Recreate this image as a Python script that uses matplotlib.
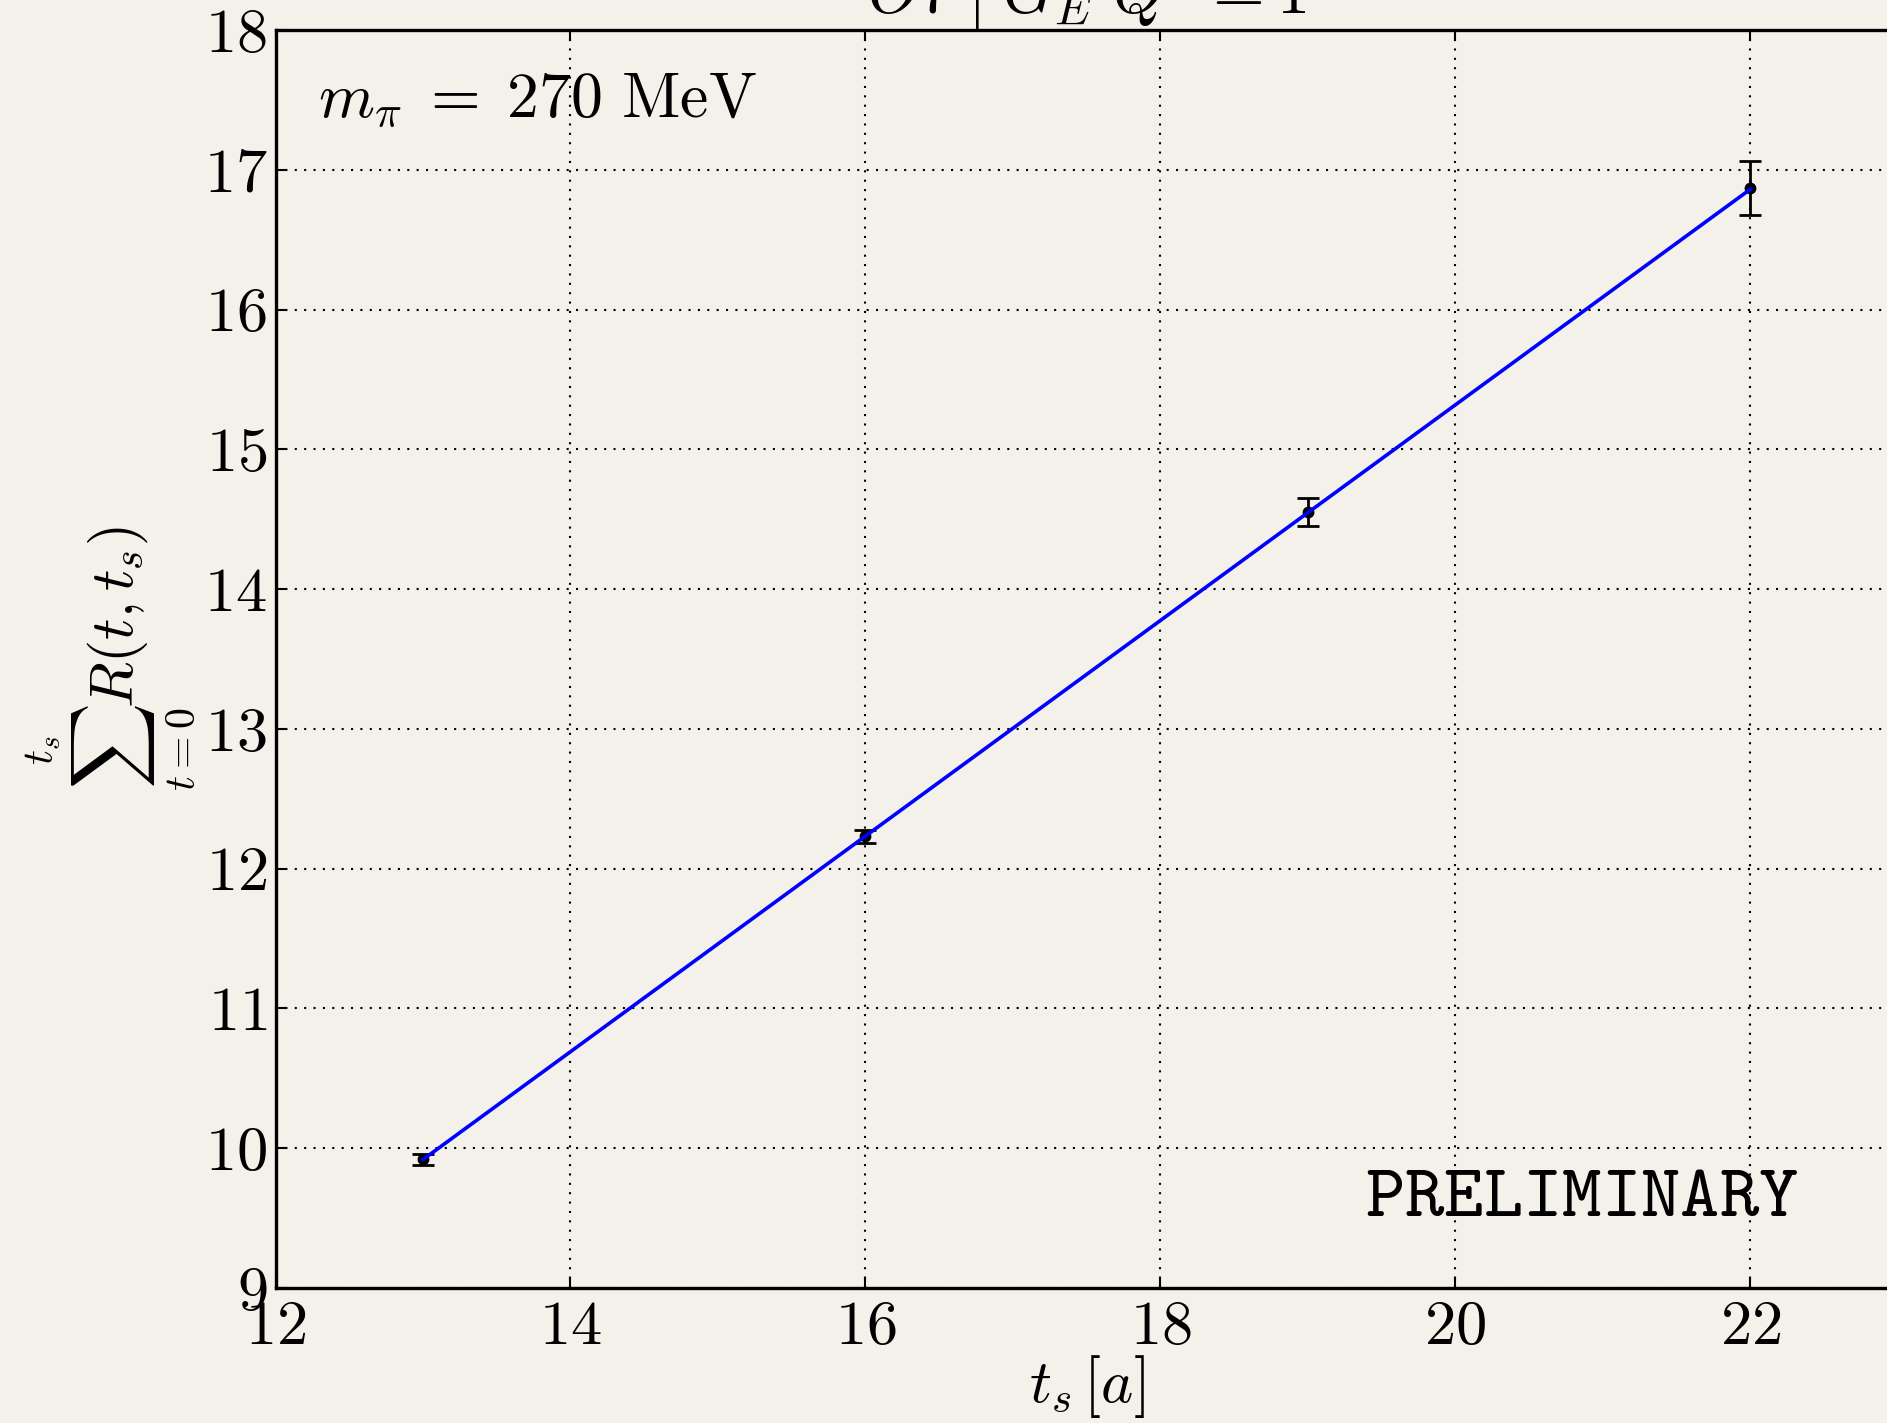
import matplotlib
matplotlib.use("Agg")
import matplotlib.pyplot as plt
import numpy as np

# summed ratio vs source-sink separation
ts = np.array([13, 16, 19, 22])
sum_r = np.array([9.92, 12.23, 14.55, 16.87])
sum_r_err = np.array([0.04, 0.05, 0.10, 0.19])

x_ticks = [12, 14, 16, 18, 20, 22]
y_ticks = [9, 10, 11, 12, 13, 14, 15, 16, 17, 18]

bg = '#f4f1eb'
plt.rcParams['mathtext.fontset'] = 'cm'
plt.rcParams['font.family'] = ['cmr10', 'DejaVu Serif']
plt.rcParams['axes.formatter.use_mathtext'] = True

fig = plt.figure(figsize=(18.87, 14.23), dpi=100, facecolor=bg)
ax = fig.add_axes([0.146, 0.0949, 0.8598, 0.884])
ax.set_facecolor(bg)

# linear fit through the points, weighted by errors
p = np.polyfit(ts, sum_r, 1, w=1.0 / sum_r_err)
xf = np.array([ts[0], ts[-1]])
ax.errorbar(ts, sum_r, yerr=sum_r_err, fmt='o', color='k', ms=7.5,
            elinewidth=2, capsize=8, capthick=2, zorder=3)
ax.plot(xf, np.polyval(p, xf), color='#0000ff', lw=2.6, zorder=4)

ax.set_xlim(12, 23)
ax.set_ylim(9, 18)
ax.set_xticks(x_ticks)
ax.set_yticks(y_ticks)
ax.grid(True, color='k', linestyle=(0, (1, 3.5)), lw=1.5)
ax.tick_params(direction='in', length=8, width=1.5, top=True, right=True,
               labelsize=45)
ax.tick_params(axis='x', pad=9)
ax.tick_params(axis='y', pad=6)
for s in ax.spines.values():
    s.set_linewidth(2.4)

ax.set_xlabel(r'$t_s\,[a]$', fontsize=44, labelpad=-2)
ax.set_ylabel(r'$\sum_{t=0}^{t_s} R(t,t_s)$', fontsize=43, labelpad=4)
ax.set_title(r'$O7\;|\;G_E\ Q^2=1$', fontsize=48, pad=12)

ax.text(0.026, 0.931, r'$m_\pi\;=\;270\ \mathrm{MeV}$', transform=ax.transAxes,
        fontsize=46, va='baseline', ha='left')
ax.text(0.805, 0.057, r'$\mathtt{PRELIMINARY}$', transform=ax.transAxes,
        fontsize=54, va='baseline', ha='center')

fig.savefig('out.png', dpi=100, facecolor=bg)
